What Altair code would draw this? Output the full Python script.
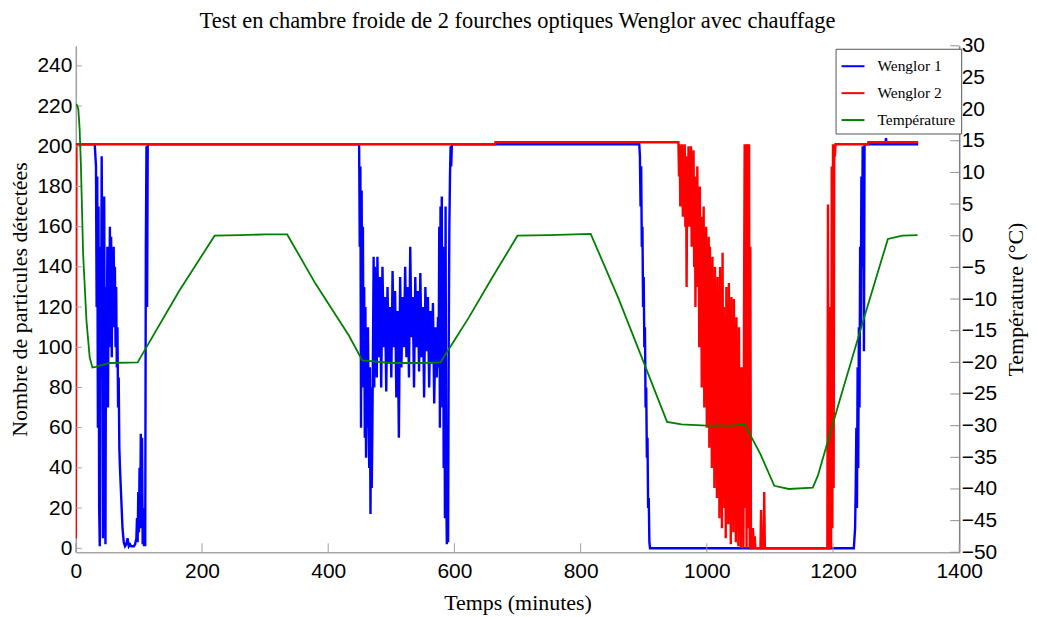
import altair as alt
import pandas as pd

# ---------------- data ----------------
# Wenglor 1 (blue), left axis: (time in minutes, particle count)
w1_seg1 = [(0, 201), (30, 201), (32, 190), (33, 120), (34, 185), (35, 60), (36, 170), (37, 20), (38, 1),
           (39, 150), (40, 90), (41, 195), (42, 140), (43, 5), (44, 110), (45, 175), (46, 70), (47, 2),
           (48, 130), (49, 90), (50, 150), (51, 70), (52, 140), (53, 100), (54, 160), (55, 120), (56, 155),
           (57, 95), (58, 145), (59, 110), (60, 150), (61, 120), (62, 140), (63, 100), (64, 130), (65, 90),
           (66, 110), (67, 70), (68, 85), (69, 50), (70, 40), (72, 25), (74, 10), (76, 3), (78, 1), (80, 2),
           (82, 5), (84, 1), (86, 2), (88, 1), (90, 1), (92, 1), (94, 2), (96, 5), (97, 15), (98, 3),
           (99, 28), (100, 8), (101, 40), (102, 10), (103, 57), (104, 20), (105, 55), (106, 2), (107, 18),
           (108, 1), (109, 20), (110, 1), (111, 150), (112, 200), (113, 120), (114, 201), (116, 201)]
w1_seg2 = [(447, 201), (449, 201), (450, 150), (451, 190), (452, 60), (453, 178), (454, 100), (455, 160),
           (456, 80), (457, 130), (458, 55), (459, 120), (460, 45), (461, 100), (462, 60), (463, 110),
           (464, 70), (465, 40), (466, 90), (467, 17), (468, 80), (469, 30), (470, 60), (471, 100),
           (472, 145), (473, 80), (474, 140), (475, 90), (476, 130), (477, 85), (478, 145), (480, 95),
           (482, 135), (484, 80), (486, 140), (488, 100), (490, 125), (492, 78), (494, 130), (496, 92),
           (498, 120), (500, 85), (502, 138), (504, 100), (506, 128), (508, 75), (510, 118), (512, 55),
           (514, 135), (516, 90), (518, 125), (520, 100), (522, 140), (524, 95), (526, 130), (528, 85),
           (530, 150), (532, 105), (534, 125), (536, 80), (538, 135), (540, 100), (542, 128), (544, 88),
           (546, 137), (548, 95), (550, 120), (552, 75), (554, 130), (556, 98), (558, 125), (560, 80),
           (562, 118), (564, 92), (566, 122), (568, 72), (570, 110), (572, 85), (574, 115), (575, 90),
           (576, 160), (577, 60), (578, 170), (579, 100), (580, 175), (581, 70), (582, 150), (583, 40),
           (584, 120), (585, 15), (586, 170), (587, 30), (588, 2), (589, 60), (590, 3), (591, 100),
           (592, 160), (593, 185), (594, 200), (595, 190), (596, 201)]
w1_seg3 = [(893, 201), (894, 195), (895, 170), (896, 190), (897, 150), (898, 160), (899, 120), (900, 135),
           (901, 100), (902, 110), (903, 70), (904, 80), (905, 45), (906, 55), (907, 20), (908, 25),
           (909, 3), (910, 0), (1233, 0), (1235, 10), (1236, 30), (1237, 60), (1238, 20), (1239, 90),
           (1240, 40), (1241, 110), (1242, 70), (1243, 150), (1244, 110), (1245, 185), (1246, 140),
           (1247, 200), (1248, 170), (1249, 98), (1250, 201), (1283, 201), (1284, 204), (1285, 201),
           (1335, 201)]

# Wenglor 2 (red), left axis
w2_seg1 = [(0, 5), (1, 201), (664, 201), (665, 202), (955, 202)]
w2_seg2 = [(956, 185), (957, 201), (958, 170), (959, 200), (960, 175), (961, 201), (962, 165), (963, 198),
           (964, 180), (965, 201), (966, 160), (967, 195), (968, 130), (969, 190), (970, 170), (971, 200),
           (972, 160), (973, 195), (974, 175), (975, 200), (976, 150), (977, 190), (978, 165), (979, 198),
           (980, 140), (981, 185), (982, 120), (983, 180), (984, 150), (985, 190), (986, 130), (987, 175),
           (988, 100), (989, 180), (990, 110), (991, 165), (992, 80), (993, 160), (994, 120), (995, 170),
           (996, 70), (997, 150), (998, 90), (999, 160), (1000, 60), (1001, 140), (1002, 100), (1003, 155),
           (1004, 50), (1005, 150), (1006, 80), (1007, 135), (1008, 40), (1009, 145), (1010, 60),
           (1011, 120), (1012, 30), (1013, 140), (1014, 70), (1015, 125), (1016, 25), (1017, 135),
           (1018, 45), (1019, 110), (1020, 15), (1021, 140), (1022, 55), (1023, 100), (1024, 10),
           (1025, 147), (1026, 35), (1027, 120), (1028, 20), (1029, 110), (1030, 5), (1031, 130),
           (1032, 40), (1033, 95), (1034, 12), (1035, 132), (1036, 30), (1037, 85), (1038, 2), (1039, 125),
           (1040, 20), (1041, 100), (1042, 8), (1043, 124), (1044, 45), (1045, 90), (1046, 3), (1047, 115),
           (1048, 25), (1049, 80), (1050, 1), (1051, 110), (1052, 15), (1053, 70), (1054, 0), (1055, 90),
           (1056, 10), (1057, 60), (1058, 0), (1059, 120), (1060, 201), (1061, 20), (1062, 201), (1063, 0),
           (1064, 200), (1065, 201), (1066, 10), (1067, 201), (1068, 0), (1069, 150), (1070, 0)]
w2_seg3 = [(1071, 0), (1073, 10), (1075, 0), (1076, 6), (1077, 0), (1085, 0), (1086, 19), (1087, 0),
           (1090, 0), (1091, 28), (1092, 0), (1191, 0), (1192, 171), (1193, 0), (1195, 0), (1196, 120),
           (1197, 0), (1198, 190), (1199, 10), (1200, 201), (1201, 30), (1202, 201), (1203, 195),
           (1204, 201), (1255, 201), (1256, 202), (1335, 202)]

# Temperature (green), right axis
temp_t = [0, 2, 4, 6, 8, 11.6, 16.9, 22, 26.3, 32, 38, 54, 98, 112, 164, 220, 260, 300, 335, 380, 433,
          454, 500, 550, 578, 623, 660, 700, 750, 816, 860, 900, 937, 960, 1000, 1040, 1060, 1085, 1107,
          1130, 1168, 1176, 1212, 1250, 1287, 1310, 1334]
temp_v = [20.8, 20.6, 20, 17, 11.5, -2.9, -13.4, -19.2, -20.8, -20.7, -20.5, -20.1, -20, -17.6, -8.7, 0,
          0.1, 0.2, 0.2, -7.6, -15.8, -19.7, -20.1, -20.1, -20, -12.9, -6.6, 0, 0.1, 0.3, -9.9, -20,
          -29.4, -29.8, -30, -30, -29.8, -34.5, -39.5, -40, -39.8, -37.9, -25.5, -12.7, -0.5, 0, 0.1]

series_names = ["Wenglor 1", "Wenglor 2", "Température"]
series_colors = ["#0000ff", "#ff0000", "#008000"]
x_ticks = [0, 200, 400, 600, 800, 1000, 1200, 1400]
left_ticks = [0, 20, 40, 60, 80, 100, 120, 140, 160, 180, 200, 220, 240]
right_ticks = [-50, -45, -40, -35, -30, -25, -20, -15, -10, -5, 0, 5, 10, 15, 20, 25, 30]

# ---------------- tables ----------------
w1 = pd.DataFrame(w1_seg1 + w1_seg2 + w1_seg3, columns=["t", "v"])
w1["series"] = series_names[0]
w2 = pd.DataFrame(w2_seg1 + w2_seg2 + w2_seg3, columns=["t", "v"])
w2["series"] = series_names[1]
tmp = pd.DataFrame({"t": temp_t, "temp": temp_v})
tmp["series"] = series_names[2]
lt = pd.DataFrame({"v": left_ticks})
rt = pd.DataFrame({"temp": right_ticks})
bt = pd.DataFrame({"t": x_ticks})

SERIF = "Liberation Serif"
SANS = "Liberation Sans"
W, H = 886, 508

xscale = alt.Scale(domain=[0, 1400], nice=False, zero=False)
lscale = alt.Scale(domain=[-2, 250], nice=False, zero=False)
rscale = alt.Scale(domain=[-50, 30], nice=False, zero=False)

color = alt.Color(
    "series:N",
    scale=alt.Scale(domain=series_names, range=series_colors),
    legend=alt.Legend(
        title=None, orient="none", legendX=762, legendY=3,
        symbolType="stroke", symbolSize=529, symbolStrokeWidth=2,
        labelFont=SERIF, labelFontSize=15.5, labelColor="black", labelOffset=12,
        rowPadding=6, padding=5, strokeColor="#555555", fillColor="white",
    ),
)

x_axis = alt.Axis(
    values=x_ticks, format="d", ticks=False, labelPadding=8, labelFont=SANS, labelFontSize=21,
    labelColor="black", labelFlush=False, labelOverlap=False, labelBound=False,
    domainColor="#a8a8a8", domainWidth=1.5, grid=False,
    title="Temps (minutes)", titleFont=SERIF, titleFontSize=22, titleFontWeight="normal",
    titleColor="black", titleX=W / 2, titleY=50, titleAlign="center", titleBaseline="middle",
)
left_axis = alt.Axis(
    values=left_ticks, format="d", ticks=False, labelPadding=4, labelFont=SANS, labelFontSize=21,
    labelColor="black", labelFlush=False, labelOverlap=False, labelBound=False,
    domainColor="#a0a0a0", domainWidth=1.5, grid=False,
    title="Nombre de particules détectées", titleFont=SERIF, titleFontSize=22,
    titleFontWeight="normal", titleColor="black", titleAngle=270, titleX=-56, titleY=H / 2,
    titleAlign="center", titleBaseline="middle",
)
right_axis = alt.Axis(
    orient="right", values=right_ticks, format="d", ticks=False, labelPadding=2, labelFont=SANS,
    labelFontSize=21, labelColor="black", labelFlush=False, labelOverlap=False, labelBound=False,
    domainColor="#808080", domainWidth=1.5, grid=False,
    title="Température (°C)", titleFont=SERIF, titleFontSize=22, titleFontWeight="normal",
    titleColor="black", titleAngle=270, titleX=56, titleY=H / 2, titleAlign="center",
    titleBaseline="middle",
)

X = alt.X("t:Q", scale=xscale, axis=x_axis)
YL = alt.Y("v:Q", scale=lscale, axis=left_axis)
YR = alt.Y("temp:Q", scale=rscale, axis=right_axis)

blue = alt.Chart(w1).mark_line(strokeWidth=2.4, clip=True).encode(x=X, y=YL, color=color)
red = alt.Chart(w2).mark_line(strokeWidth=2.4, clip=True).encode(x=X, y=YL, color=color)
lticks = alt.Chart(lt).mark_rule(color="#a0a0a0", strokeWidth=1).encode(
    y=YL, x=alt.value(0), x2=alt.value(6)
)
bticks = alt.Chart(bt).mark_rule(color="#a0a0a0", strokeWidth=1).encode(
    x=X, y=alt.value(H), y2=alt.value(H - 9)
)
green = alt.Chart(tmp).mark_line(strokeWidth=1.8, clip=True).encode(x=X, y=YR, color=color)
rticks = alt.Chart(rt).mark_rule(color="#909090", strokeWidth=1).encode(
    y=YR, x=alt.value(W - 9), x2=alt.value(W)
)

left_group = alt.layer(blue, red, lticks, bticks)
right_group = alt.layer(green, rticks)

chart = alt.layer(left_group, right_group).resolve_scale(y="independent").properties(
    width=W, height=H,
    autosize=alt.AutoSizeParams(type="none"),
    padding={"left": 68, "top": 37, "right": 70, "bottom": 64},
    background="white",
    title=alt.TitleParams(
        text="Test en chambre froide de 2 fourches optiques Wenglor avec chauffage",
        font=SERIF, fontSize=22.5, fontWeight="normal", color="black",
        anchor="middle", frame="group", offset=2,
    ),
).configure_view(stroke=None)

chart.save("out.html", embed_options={"renderer": "svg", "actions": False})
